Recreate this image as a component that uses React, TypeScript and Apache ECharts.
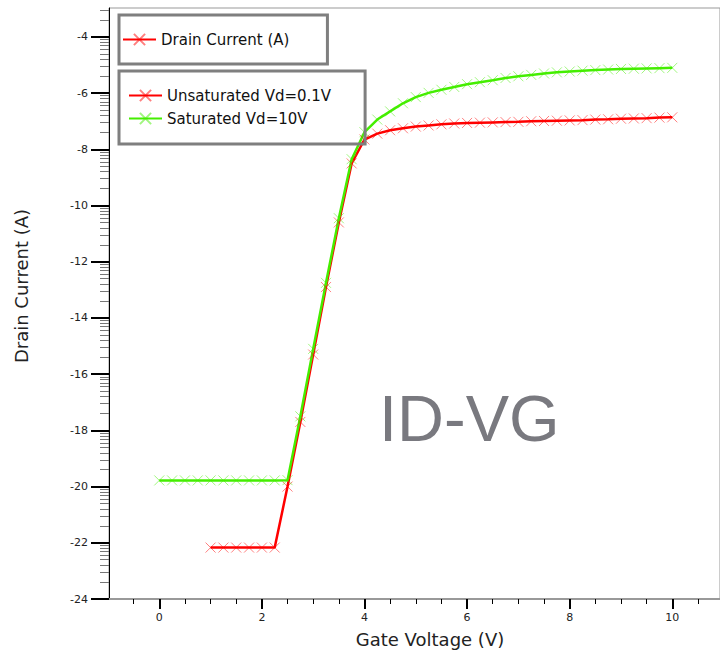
import React, { useEffect, useRef } from "react";
import * as echarts from "echarts";

// Saturated Vd=10V
const gateVoltageSat = [
  0, 0.25, 0.5, 0.75, 1, 1.25, 1.5, 1.75, 2, 2.25, 2.5, 2.75, 3, 3.25, 3.5, 3.75, 4, 4.25, 4.5, 4.75,
  5, 5.25, 5.5, 5.75, 6, 6.25, 6.5, 6.75, 7, 7.25, 7.5, 7.75, 8, 8.25, 8.5, 8.75, 9, 9.25, 9.5, 9.75, 10,
];
const drainCurrentSat = [
  -19.78, -19.78, -19.78, -19.78, -19.78, -19.78, -19.78, -19.78, -19.78, -19.78, -19.77, -17.5, -15.1,
  -12.75, -10.45, -8.35, -7.39, -6.94, -6.65, -6.36, -6.14, -5.99, -5.88, -5.78, -5.68, -5.61, -5.54,
  -5.46, -5.4, -5.35, -5.3, -5.26, -5.23, -5.2, -5.18, -5.16, -5.14, -5.13, -5.12, -5.11, -5.1,
];

// Unsaturated Vd=0.1V
const gateVoltageUnsat = [
  1, 1.25, 1.5, 1.75, 2, 2.25, 2.5, 2.75, 3, 3.25, 3.5, 3.75, 4, 4.25, 4.5, 4.75, 5, 5.25, 5.5, 5.75, 6,
  6.25, 6.5, 6.75, 7, 7.25, 7.5, 7.75, 8, 8.25, 8.5, 8.75, 9, 9.25, 9.5, 9.75, 10,
];
const drainCurrentUnsat = [
  -22.17, -22.17, -22.17, -22.17, -22.17, -22.17, -20.0, -17.7, -15.3, -12.9, -10.6, -8.5, -7.65, -7.44,
  -7.32, -7.25, -7.19, -7.15, -7.11, -7.08, -7.06, -7.05, -7.04, -7.03, -7.02, -7.0, -6.99, -6.98, -6.97,
  -6.96, -6.94, -6.93, -6.91, -6.9, -6.89, -6.87, -6.86,
];

const xTickLabels = [0, 2, 4, 6, 8, 10];
const xMinorTicks = [-0.5, 0.5, 1, 1.5, 2.5, 3, 3.5, 4.5, 5, 5.5, 6.5, 7, 7.5, 8.5, 9, 9.5, 10.5];
const yTickLabels = [-24, -22, -20, -18, -16, -14, -12, -10, -8, -6, -4];

const X_MIN = -0.98;
const X_MAX = 10.93;
const Y_MIN = -24;
const Y_MAX = -2.97;

// log-style minor ticks inside each 2-unit interval
const yMinorTicks: number[] = [];
for (const m of yTickLabels) {
  for (let k = 2; k <= 9; k++) {
    const v = m + 2 * Math.log10(k);
    if (v < Y_MAX) yMinorTicks.push(v);
  }
}

const CROSS = "path://M0 0L10 10M10 0L0 10";
const FONT = "DejaVu Sans";

export default function App() {
  const ref = useRef<HTMLDivElement>(null);
  useEffect(() => {
    if (!ref.current) return;
    const chart = echarts.init(ref.current, null, { renderer: "svg" });
    const sat = gateVoltageSat.map((v, i) => [v, drainCurrentSat[i]]);
    const unsat = gateVoltageUnsat.map((v, i) => [v, drainCurrentUnsat[i]]);
    const lineSeries = (name: string, color: string, mark: string, data: number[][]) => ({
      name,
      type: "line",
      data,
      xAxisIndex: 0,
      yAxisIndex: 0,
      symbol: CROSS,
      symbolSize: 10,
      showSymbol: true,
      lineStyle: { color, width: 2.5 },
      itemStyle: { color: "transparent", borderColor: mark, borderWidth: 1 },
      emphasis: { disabled: true },
    });
    chart.setOption({
      animation: false,
      textStyle: { fontFamily: FONT },
      grid: {
        left: 109,
        right: 0,
        top: 8,
        bottom: 52,
        show: true,
        borderColor: "#999",
        borderWidth: 1,
        backgroundColor: "transparent",
      },
      legend: [
        {
          data: ["Drain Current (A)"],
          left: 119,
          top: 15,
          padding: [17, 38, 17, 3],
          itemWidth: 33,
          itemHeight: 14,
          borderColor: "#7f7f7f",
          borderWidth: 3,
          borderRadius: 0,
          selectedMode: false,
          textStyle: { fontFamily: FONT, fontSize: 15, color: "#111" },
        },
        {
          data: ["Unsaturated Vd=0.1V", "Saturated Vd=10V"],
          orient: "vertical",
          left: 119,
          top: 71,
          padding: [17, 34, 18, 9],
          itemGap: 8,
          itemWidth: 33,
          itemHeight: 14,
          borderColor: "#7f7f7f",
          borderWidth: 3,
          borderRadius: 0,
          selectedMode: false,
          textStyle: { fontFamily: FONT, fontSize: 15, color: "#111" },
        },
      ],
      xAxis: [
        {
          type: "value",
          min: X_MIN,
          max: X_MAX,
          axisLine: { show: true, onZero: false, lineStyle: { color: "#999", width: 2 } },
          axisTick: { show: true, customValues: xTickLabels, length: 10, lineStyle: { color: "#000", width: 2 } },
          axisLabel: { customValues: xTickLabels, margin: 13, fontSize: 11, color: "#222", fontFamily: FONT },
          splitLine: { show: false },
        },
        {
          type: "value",
          min: X_MIN,
          max: X_MAX,
          position: "bottom",
          axisLine: { show: false, onZero: false },
          axisTick: { show: true, customValues: xMinorTicks, length: 5, lineStyle: { color: "#000", width: 1 } },
          axisLabel: { show: false },
          splitLine: { show: false },
        },
      ],
      yAxis: [
        {
          type: "value",
          min: Y_MIN,
          max: Y_MAX,
          axisLine: { show: true, onZero: false, lineStyle: { color: "#000", width: 1 } },
          axisTick: { show: true, customValues: yTickLabels, length: 18, lineStyle: { color: "#000", width: 2 } },
          axisLabel: { customValues: yTickLabels, margin: 21, fontSize: 11, color: "#222", fontFamily: FONT },
          splitLine: { show: false },
        },
        {
          type: "value",
          min: Y_MIN,
          max: Y_MAX,
          position: "left",
          offset: 0,
          axisLine: { show: false, onZero: false },
          axisTick: { show: true, customValues: yMinorTicks, length: 9, lineStyle: { color: "#777", width: 1 } },
          axisLabel: { show: false },
          splitLine: { show: false },
        },
      ],
      series: [
        lineSeries("Drain Current (A)", "#ff0000", "rgba(255,0,0,0.5)", []),
        lineSeries("Unsaturated Vd=0.1V", "#ff0000", "rgba(255,0,0,0.5)", unsat),
        lineSeries("Saturated Vd=10V", "#44ee00", "rgba(68,238,0,0.5)", sat),
      ],
      graphic: [
        {
          type: "text",
          x: 21,
          y: 286,
          rotation: Math.PI / 2,
          style: {
            text: "Drain Current (A)",
            fontFamily: FONT,
            fontSize: 18,
            fill: "#222",
            align: "center",
            verticalAlign: "middle",
          },
        },
        {
          type: "text",
          x: 430,
          y: 639,
          style: {
            text: "Gate Voltage (V)",
            fontFamily: FONT,
            fontSize: 18,
            fill: "#222",
            align: "center",
            verticalAlign: "middle",
          },
        },
        {
          type: "text",
          x: 379,
          y: 418,
          style: {
            text: "ID-VG",
            fontFamily: "Liberation Sans",
            fontSize: 65,
            fill: "#79797f",
            align: "left",
            verticalAlign: "middle",
          },
        },
      ],
    });
    return () => chart.dispose();
  }, []);
  return (
    <div
      ref={ref}
      style={{ position: "absolute", left: 0, top: 0, width: 720, height: 651, background: "#fff" }}
    />
  );
}
